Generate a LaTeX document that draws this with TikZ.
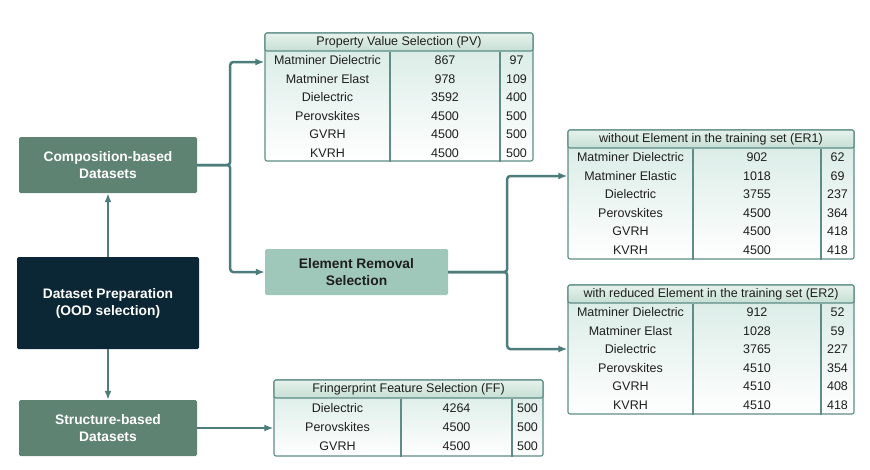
\documentclass[tikz,border=0pt]{standalone}
\usepackage{fontspec}
\setmainfont{Liberation Sans}
\usetikzlibrary{positioning,calc,arrows.meta}

\definecolor{darknavy}{HTML}{0B2634}
\definecolor{sagegreen}{HTML}{5E8373}
\definecolor{mintgreen}{HTML}{A0C8BA}
\definecolor{linkteal}{HTML}{4C7C7B}
\definecolor{gridteal}{HTML}{5E8C86}
\definecolor{hdrtop}{HTML}{E6F2EC}
\definecolor{hdrbot}{HTML}{C6DFD4}
\definecolor{bodytop}{HTML}{D6EAE4}
\definecolor{celltext}{HTML}{1E1E1E}

\tikzset{
  databox/.style={rounded corners=1.5pt, align=center, inner sep=0pt,
    font=\fontsize{13.8}{17}\selectfont\bfseries},
  conn/.style={draw=linkteal, line width=2.5pt, rounded corners=3pt,
    -{Latex[length=9pt,width=7pt]}},
  tableframe/.style={draw=gridteal, line width=1.1pt, rounded corners=2pt,
    top color=bodytop, bottom color=white, inner sep=0pt},
  tablehead/.style={draw=gridteal, line width=1.1pt, rounded corners=2pt,
    top color=hdrtop, bottom color=hdrbot, inner sep=0pt, text=celltext,
    minimum height=18pt, font=\fontsize{12.5}{15}\selectfont},
  gridline/.style={draw=gridteal, line width=1.1pt},
  cell/.style={inner sep=0pt, text=celltext, font=\fontsize{12.5}{15}\selectfont},
}

\begin{document}
\begin{tikzpicture}[x=1pt,y=-1pt]
\useasboundingbox (0,0) rectangle (870,469);

% left column
\node[databox, fill=darknavy, text=white, minimum width=182pt, minimum height=92pt] (prep) at (108,303) {Dataset Preparation\\(OOD selection)};
\node[databox, fill=sagegreen, text=white, minimum width=178pt, minimum height=56pt] (comp) at (108,165) {Composition-based\\Datasets};
\node[databox, fill=sagegreen, text=white, minimum width=178pt, minimum height=56pt] (struct) at (108,428) {Structure-based\\Datasets};
\node[databox, fill=mintgreen, text=celltext, minimum width=183pt, minimum height=46pt] (ers) at (356.5,272) {Element Removal\\Selection};

% property value table
\node[tableframe, minimum width=268pt, minimum height=128pt] (pv) at (399,97) {};
\node[tablehead, minimum width=268pt, anchor=north] (pv-hdr) at (pv.north) {Property Value Selection (PV)};
\draw[gridline] (390,0 |- pv-hdr.south) -- (390,0 |- pv.south);
\draw[gridline] (500,0 |- pv-hdr.south) -- (500,0 |- pv.south);
\foreach \name/\ntr/\nte [count=\i] in {Matminer Dielectric/867/97, Matminer Elast/978/109,
    Dielectric/3592/400, Perovskites/4500/500, GVRH/4500/500, KVRH/4500/500}{
  \node[cell] (pv-a\i) at (327.5,{51+18.5*\i-9.25}) {\name};
  \node[cell] (pv-b\i) at (445,{51+18.5*\i-9.25}) {\ntr};
  \node[cell] (pv-c\i) at (516.5,{51+18.5*\i-9.25}) {\nte};
}

% ER1 table
\node[tableframe, minimum width=286pt, minimum height=129pt] (er1) at (711,194.5) {};
\node[tablehead, minimum width=286pt, anchor=north] (er1-hdr) at (er1.north) {without Element in the training set (ER1)};
\draw[gridline] (693,0 |- er1-hdr.south) -- (693,0 |- er1.south);
\draw[gridline] (821,0 |- er1-hdr.south) -- (821,0 |- er1.south);
\foreach \name/\ntr/\nte [count=\i] in {Matminer Dielectric/902/62, Matminer Elastic/1018/69,
    Dielectric/3755/237, Perovskites/4500/364, GVRH/4500/418, KVRH/4500/418}{
  \node[cell] (er1-a\i) at (630.5,{148+18.5*\i-9.25}) {\name};
  \node[cell] (er1-b\i) at (757,{148+18.5*\i-9.25}) {\ntr};
  \node[cell] (er1-c\i) at (837.5,{148+18.5*\i-9.25}) {\nte};
}

% ER2 table
\node[tableframe, minimum width=286pt, minimum height=129pt] (er2) at (711,349.5) {};
\node[tablehead, minimum width=286pt, anchor=north] (er2-hdr) at (er2.north) {with reduced Element in the training set (ER2)};
\draw[gridline] (693,0 |- er2-hdr.south) -- (693,0 |- er2.south);
\draw[gridline] (821,0 |- er2-hdr.south) -- (821,0 |- er2.south);
\foreach \name/\ntr/\nte [count=\i] in {Matminer Dielectric/912/52, Matminer Elast/1028/59,
    Dielectric/3765/227, Perovskites/4510/354, GVRH/4510/408, KVRH/4510/418}{
  \node[cell] (er2-a\i) at (630.5,{303+18.5*\i-9.25}) {\name};
  \node[cell] (er2-b\i) at (757,{303+18.5*\i-9.25}) {\ntr};
  \node[cell] (er2-c\i) at (837.5,{303+18.5*\i-9.25}) {\nte};
}

% fingerprint table
\node[tableframe, minimum width=269pt, minimum height=76pt] (ff) at (408.5,418) {};
\node[tablehead, minimum width=269pt, anchor=north] (ff-hdr) at (ff.north) {Fringerprint Feature Selection (FF)};
\draw[gridline] (401,0 |- ff-hdr.south) -- (401,0 |- ff.south);
\draw[gridline] (512,0 |- ff-hdr.south) -- (512,0 |- ff.south);
\foreach \name/\ntr/\nte [count=\i] in {Dielectric/4264/500, Perovskites/4500/500, GVRH/4500/500}{
  \node[cell] (ff-a\i) at (337.5,{399+19*\i-9.5}) {\name};
  \node[cell] (ff-b\i) at (456.5,{399+19*\i-9.5}) {\ntr};
  \node[cell] (ff-c\i) at (527.5,{399+19*\i-9.5}) {\nte};
}

% entry points
\coordinate (pv-in) at (pv.west |- 0,62);
\coordinate (er1-in) at (er1.west |- 0,176);
\coordinate (er2-in) at (er2.west |- 0,349);

% connectors
\draw[conn] (prep.north) -- (comp.south);
\draw[conn] (prep.south) -- (struct.north);
\draw[conn] (comp.east) -- ++(33,0) |- (pv-in);
\draw[conn] (comp.east) -- ++(33,0) |- (ers.west);
\draw[conn] (ers.east) -- ++(59,0) |- (er1-in);
\draw[conn] (ers.east) -- ++(59,0) |- (er2-in);
\draw[conn] (struct.east) -- (struct.east -| ff.west);
\end{tikzpicture}
\end{document}
